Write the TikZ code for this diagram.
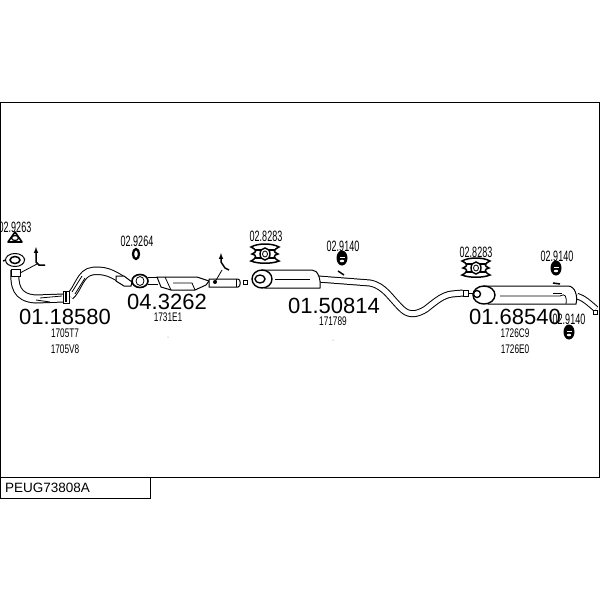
\documentclass[tikz,border=0pt]{standalone}
\usepackage{fontspec}
\setmainfont{Liberation Sans}
\newfontfamily\narrowfont[FakeStretch=.66]{Liberation Sans}
\newfontfamily\slimfont[FakeStretch=.6]{Liberation Sans}
\usetikzlibrary{positioning,calc}
\tikzset{
  partlabel/.style={inner sep=0pt, font=\fontsize{22}{22}\selectfont},
  reflabel/.style={inner sep=0pt, font=\narrowfont\fontsize{12.5}{12.5}\selectfont},
  mountlabel/.style={inner sep=0pt, font=\slimfont\fontsize{15}{15}\selectfont},
  pipe/.style={draw=black, line width=1pt, double=white, double distance=5pt},
  body/.style={draw=black, line width=1pt, fill=white},
  thin line/.style={draw=black, line width=.8pt},
  rubber/.style={draw=black, line width=2.2pt, fill=white}
}
\newcommand{\hangermount}[1]{
  \fill[black] (#1) ellipse (5.5 and 7.5);
  \fill[white] ($(#1)+(-2.5,-1)$) rectangle ++(5,1);
  \fill[white] ($(#1)+(0,3)$) ellipse (2.2 and 1.3);
}
\newcommand{\starmount}[1]{
  \begin{scope}[shift={(#1)}]
  \draw[thin line, line width=1.5pt, fill=white] (-14,-6) .. controls (-7,-10) and (7,-10) .. (14,-6)
    .. controls (8,-3) and (8,-1) .. (13,1) .. controls (8,2) and (8,5) .. (14,8)
    .. controls (7,11) and (-7,11) .. (-14,8) .. controls (-8,5) and (-8,2) .. (-13,1)
    .. controls (-8,-1) and (-8,-3) .. (-14,-6) -- cycle;
  \draw[thin line, line width=1.2pt] (-10,-3) -- (10,-3) (-10,5) -- (10,5);
  \draw[thin line, line width=1.4pt, fill=white] (0,1) ellipse (5 and 6);
  \draw[thin line] (0,1) ellipse (2.5 and 3);
  \end{scope}
}
\begin{document}
\begin{tikzpicture}[x=1pt,y=-1pt]
  \useasboundingbox (0,0) rectangle (600,600);
  \fill[white] (0,0) rectangle (600,600);
  \draw[line width=1pt] (.5,102) rectangle (599.5,477);
  \node (code) [draw, line width=1pt, minimum width=150pt, minimum height=21pt, anchor=north west, inner sep=0pt, outer sep=0pt] at (.5,477) {};
  \node (codetext) [anchor=west, inner sep=0pt, font=\fontsize{13.5}{13.5}\selectfont] at (5,488) {PEUG73808A};

  % front pipe
  \draw[pipe, double distance=7pt] (15,270) .. controls (14,285) and (16,298) .. (36,299) -- (64,298);
  \draw[pipe, double distance=6.5pt] (70,296) .. controls (78,290) and (80,272) .. (93,271) .. controls (105,270) and (112,273) .. (124,281);
  \draw[body] (116,276) -- (124,276) -- (132,282) -- (131,286) -- (124,286) -- (116,281) -- cycle;
  \draw[thin line] (40,298) -- (62,296) (36,300) -- (50,302);
  \draw[thin line] (72,292) -- (82,276) (75,294) -- (85,278);
  \draw[body] (63,291) rectangle (69,303);
  \draw[thin line, line width=1.4pt] (66,292) -- (66,302);
  \draw[thin line, line width=1.3pt] (3,261) -- (8,259) (22,259) -- (25,259);
  \draw[body] (15,260) ellipse (9.5 and 6.5);
  \draw[thin line, line width=1.5pt] (15,260) ellipse (5 and 3.5);
  \draw[body, line width=.8pt] (11,269) rectangle (20,276);
  % hanger
  \draw[thin line] (20,273) -- (37,264);
  \draw[thin line, line width=1.5pt] (36,252) -- (36,262) -- (39,265) -- (45,265);
  \draw[-latex, thin line, line width=1pt] (36,258) -- (36,247);

  % catalyst
  \draw[pipe, double distance=6pt] (148,281) -- (158,281);
  \draw[body, line width=1.6pt] (140,281) ellipse (8 and 6.5);
  \draw[thin line, fill=white] (140,281) ellipse (4 and 4.5);
  \draw[body] (157,277) -- (197,277) -- (209,281) -- (206,285) -- (195,290) -- (171,290) -- (161,287) -- cycle;
  \draw[thin line] (165,277) -- (171,290) (195,290) -- (192,283) -- (173,283);
  \draw[body] (209,279) -- (238,279) .. controls (241,279) and (241,287) .. (238,287) -- (209,287) -- cycle;
  \draw[thin line] (236,279) -- (236,287);
  \draw[body, line width=.7pt] (243,280.5) rectangle (247,284.5);
  \fill[black] (215,282) circle (2);
  \draw[thin line] (215,282) -- (222,270);
  \draw[thin line, line width=1.5pt] (221,258) -- (221,262) -- (225,268) -- (229,270);
  \draw[-latex, thin line, line width=1pt] (221,262) -- (221,253);

  % centre muffler
  \draw[pipe] (318,279) -- (370,283) .. controls (385,286) and (390,298) .. (403,310) .. controls (410,316) and (418,314) .. (426,309) .. controls (436,301) and (443,295) .. (452,294) -- (463,293);
  \draw[thin line, line width=1.5pt] (338,271) -- (344,275);
  \draw[body] (262,270) -- (312,270) .. controls (318,270) and (321,279) .. (320,288) -- (265,288) -- cycle;
  \draw[thin line] (275,279) -- (310,279);
  \draw[body, line width=1.4pt] (262,279) ellipse (10 and 9);
  \draw[thin line, line width=1.4pt] (260,279) ellipse (5 and 4);

  % rear muffler
  \draw[pipe, double distance=4.5pt] (577,296) .. controls (584,298) and (590,304) .. (596,309);
  \draw[body, line width=.7pt] (593,310) rectangle (597,314);
  \draw[body, line width=.8pt] (463,290) rectangle (468,296);
  \draw[thin line] (468,293) -- (473,293);
  \draw[body] (484,286) -- (568,286) .. controls (575,286) and (578,296) .. (576,304) -- (488,304) -- cycle;
  \draw[thin line] (500,296) -- (560,296) .. controls (565,293) and (567,296) .. (566,304);
  \draw[thin line] (553,293) -- (562,293);
  \draw[thin line, line width=1.5pt] (553,283) -- (560,284);
  \draw[body, line width=1.4pt] (484,295) ellipse (11 and 9);
  \draw[thin line, line width=1.4pt] (477,294) ellipse (3.5 and 3.5);

  % mounts
  \draw[thin line, line width=1.6pt, line join=round, fill=white] (8,242) -- (15,232) -- (22,242) -- cycle;
  \draw[thin line, line width=1.2pt] (15,238) ellipse (3.5 and 2.5);
  \draw[rubber] (136,254) ellipse (3 and 5);
  \starmount{265,253}
  \starmount{476,267}
  \hangermount{342,258}
  \hangermount{556,268}
  \hangermount{569,332}

  % labels
  \node (p1) [partlabel] at (65,317) {01.18580};
  \node (p2) [partlabel] at (167,302) {04.3262};
  \node (p3) [partlabel] at (334,306) {01.50814};
  \node (p4) [partlabel] at (515,317) {01.68540};
  \node (r1a) [reflabel] at (65,333) {1705T7};
  \node (r1b) [reflabel] at (65,349) {1705V8};
  \node (r2) [reflabel] at (168,317) {1731E1};
  \node (r3) [reflabel] at (333,321) {171789};
  \node (r4a) [reflabel] at (515,333) {1726C9};
  \node (r4b) [reflabel] at (515,349) {1726E0};
  \node (m1) [mountlabel] at (15,227) {02.9263};
  \node (m2) [mountlabel] at (137,241) {02.9264};
  \node (m3) [mountlabel] at (266,236) {02.8283};
  \node (m4) [mountlabel] at (343,246) {02.9140};
  \node (m5) [mountlabel] at (476,252) {02.8283};
  \node (m6) [mountlabel] at (557,256) {02.9140};
  \node (m7) [mountlabel] at (569,319) {02.9140};
  \fill[gray] (168,337) circle (.5) (333,340) circle (.5);
\end{tikzpicture}
\end{document}
